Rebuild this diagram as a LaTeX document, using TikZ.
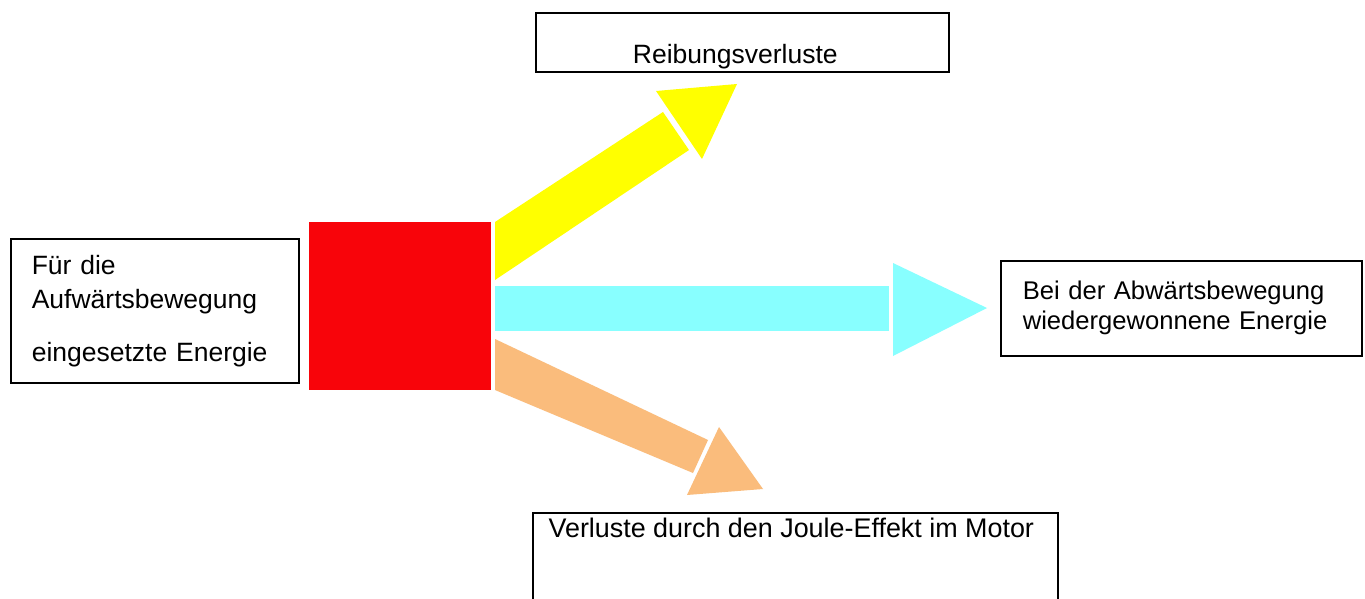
\documentclass[tikz,border=0pt]{standalone}
\usepackage{fontspec}
\setmainfont{Liberation Sans}
\definecolor{redsq}{RGB}{248,4,10}
\definecolor{yel}{RGB}{255,255,0}
\definecolor{cyn}{RGB}{136,255,255}
\definecolor{org}{RGB}{250,188,124}
\begin{document}
\begin{tikzpicture}[x=0.5pt,y=-0.5pt,
  lbox/.style={draw=black, line width=0.8pt, fill=white, anchor=north west, inner ysep=0pt,
    font=\fontsize{13.25pt}{17pt}\selectfont},
  flow/.style={draw=none}]
\clip (0,0) rectangle (1365,599);
\fill[white] (0,0) rectangle (1365,599);

% red square
\node[fill=redsq, draw=none, anchor=north west, minimum width=91pt, minimum height=84pt, inner sep=0pt] (src) at (309,222) {};

% yellow arrow
\fill[yel] (495,222) -- (663,112) -- (689,150) -- (495,280) -- cycle;
\fill[yel] (656,91) -- (737,84) -- (702,159) -- cycle;
% cyan arrow
\fill[cyn] (495,286) rectangle (889,331);
\fill[cyn] (893,263) -- (987,308) -- (893,356) -- cycle;
% orange arrow
\fill[org] (495,339) -- (708,440) -- (693,473) -- (495,390) -- cycle;
\fill[org] (719,427) -- (763,489) -- (687,495) -- cycle;

% boxes
\node[lbox, minimum width=144pt, minimum height=72pt, inner xsep=10.5pt, text width=123pt, align=left] (in) at (10,238)
  {Für die\\Aufwärtsbewegung\\[9.5pt]eingesetzte Energie};

\node[lbox, minimum width=206.5pt, minimum height=29.5pt, inner xsep=0pt] (fr) at (535,12)
  {\raisebox{-10.75pt}[0pt][0pt]{\makebox[0pt]{Reibungsverluste\hspace{7pt}}}};

\node[lbox, minimum width=180.5pt, minimum height=47.5pt, inner xsep=11pt, text width=158.5pt, align=left,
  font=\fontsize{12.8pt}{15pt}\selectfont] (out) at (1000,260)
  {Bei der Abwärtsbewegung\\wiedergewonnene Energie};

\node[lbox, minimum width=262.5pt, minimum height=75pt, inner xsep=0pt,
  font=\fontsize{13.45pt}{17pt}\selectfont] (jl) at (532,512)
  {\raisebox{25pt}[0pt][0pt]{\makebox[0pt]{Verluste durch den Joule-Effekt im Motor\hspace{4pt}}}};
\end{tikzpicture}
\end{document}
